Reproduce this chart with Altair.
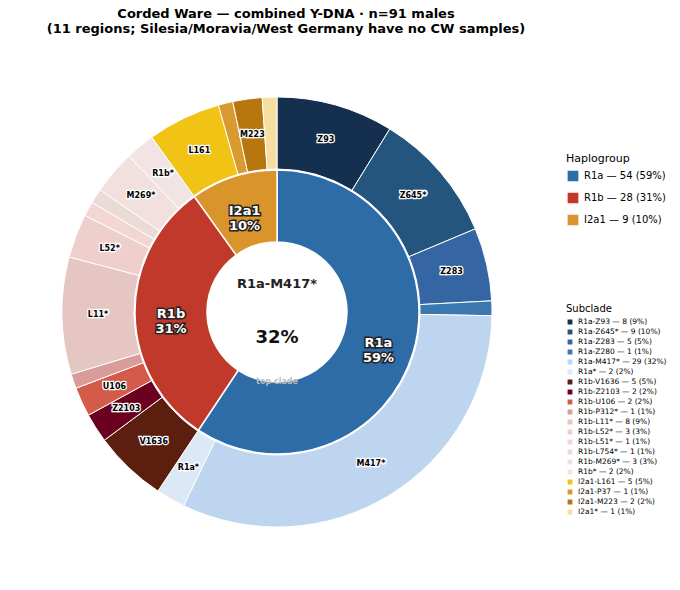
import altair as alt
import pandas as pd

HAPLO = ["R1a", "R1b", "I2a1"]
HAPLO_N = [54, 28, 9]
HAPLO_COL = ["#2e6ca8", "#c0392b", "#d9952b"]

SUB = ["R1a-Z93", "R1a-Z645*", "R1a-Z283", "R1a-Z280", "R1a-M417*", "R1a*",
       "R1b-V1636", "R1b-Z2103", "R1b-U106", "R1b-P312*", "R1b-L11*", "R1b-L52*",
       "R1b-L51*", "R1b-L754*", "R1b-M269*", "R1b*",
       "I2a1-L161", "I2a1-P37", "I2a1-M223", "I2a1*"]
SUB_N = [8, 9, 5, 1, 29, 2, 5, 2, 2, 1, 8, 3, 1, 1, 3, 2, 5, 1, 2, 1]
SUB_COL = ["#15304f", "#24557f", "#3566a3", "#3b78b0", "#bdd5ee", "#dbe8f6",
           "#5c1e0e", "#6b0020", "#d45a4a", "#d89c9a", "#e6c6c2", "#efcfcc",
           "#f1d6d4", "#ebdbd6", "#f2e0de", "#f0e4e4",
           "#f1c314", "#d99a30", "#b8760f", "#f6dfa0"]
TOTAL = 91

inner = pd.DataFrame({"g": HAPLO, "n": HAPLO_N, "o": range(len(HAPLO))})
inner["lab"] = [f"{g} — {n} ({round(100 * n / TOTAL)}%)" for g, n in zip(HAPLO, HAPLO_N)]
inner["txt"] = [f"{g}\n{round(100 * n / TOTAL)}%" for g, n in zip(HAPLO, HAPLO_N)]

outer = pd.DataFrame({"s": SUB, "n": SUB_N, "o": range(len(SUB))})
outer["lab"] = [f"{s} — {n} ({round(100 * n / TOTAL)}%)" for s, n in zip(SUB, SUB_N)]
outer["txt"] = [s.split("-")[-1] if n >= 2 else "" for s, n in zip(SUB, SUB_N)]

CX, CY = 269, 254
FONT = "DejaVu Sans"

base_i = alt.Chart(inner).encode(theta=alt.Theta("n:Q", stack=True), order=alt.Order("o:Q"),
                                 x=alt.value(CX), y=alt.value(CY))
arc_i = base_i.mark_arc(innerRadius=70, outerRadius=142, stroke="white", strokeWidth=1.5).encode(
    color=alt.Color("lab:N", sort=list(inner["lab"]),
                    scale=alt.Scale(domain=list(inner["lab"]), range=HAPLO_COL),
                    legend=alt.Legend(title="Haplogroup", orient="none", legendX=558, legendY=95,
                                      titleFontSize=11, labelFontSize=10, symbolType="square",
                                      titleFontWeight="normal", symbolSize=150)))
txt_i_bg = base_i.mark_text(radius=106, font=FONT, fontSize=13, fontWeight="bold",
                            stroke="#222", strokeWidth=3, lineBreak="\n").encode(text="txt:N")
txt_i = base_i.mark_text(radius=106, font=FONT, fontSize=13, fontWeight="bold",
                         color="white", lineBreak="\n").encode(text="txt:N")

base_o = alt.Chart(outer).encode(theta=alt.Theta("n:Q", stack=True), order=alt.Order("o:Q"),
                                 x=alt.value(CX), y=alt.value(CY))
arc_o = base_o.mark_arc(innerRadius=143, outerRadius=215, stroke="white", strokeWidth=1).encode(
    fill=alt.Fill("lab:N", sort=list(outer["lab"]),
                  scale=alt.Scale(domain=list(outer["lab"]), range=SUB_COL),
                  legend=alt.Legend(title="Subclade", orient="none", legendX=558, legendY=246,
                                    titleFontSize=10, labelFontSize=7.5, symbolType="square",
                                    titleFontWeight="normal", symbolSize=40, rowPadding=0,
                                    clipHeight=10, labelLimit=200, titlePadding=3)))
txt_o_bg = base_o.mark_text(radius=179, font=FONT, fontSize=8, fontWeight="bold",
                            stroke="white", strokeWidth=2.5).encode(text="txt:N")
txt_o = base_o.mark_text(radius=179, font=FONT, fontSize=8, fontWeight="bold",
                         color="black").encode(text="txt:N")

center = pd.DataFrame({"t": ["R1a-M417*", "32%", "top clade"],
                       "dy": [-28, 26, 70], "sz": [13, 18, 8], "c": ["#222", "#111", "#bbb"]})
ctr = alt.Chart(center).mark_text(font=FONT, fontWeight="bold").encode(
    x=alt.value(CX), y=alt.Y("dy:Q", scale=alt.Scale(domain=[-CY, 524 - CY], reverse=True), axis=None),
    text="t:N", size=alt.Size("sz:Q", scale=None, legend=None), color=alt.Color("c:N", scale=None))

chart = (
    alt.layer(arc_o, arc_i, txt_o_bg, txt_o, txt_i_bg, txt_i, ctr)
    .resolve_scale(color="independent", fill="independent")
    .properties(
        width=664, height=524, autosize="none",
        padding={"top": 50, "left": 0, "right": 0, "bottom": 0},
        title=alt.Title(["Corded Ware — combined Y-DNA  ·  n=91 males",
                         "(11 regions; Silesia/Moravia/West Germany have no CW samples)"],
                        font=FONT, fontSize=13, fontWeight="bold", anchor="middle", dx=-54,
                        dy=-14, offset=8),
    )
    .configure_view(stroke=None)
    .configure_legend(labelFont=FONT, titleFont=FONT)
)
chart.save("out.html", embed_options={"renderer": "svg", "actions": False})
